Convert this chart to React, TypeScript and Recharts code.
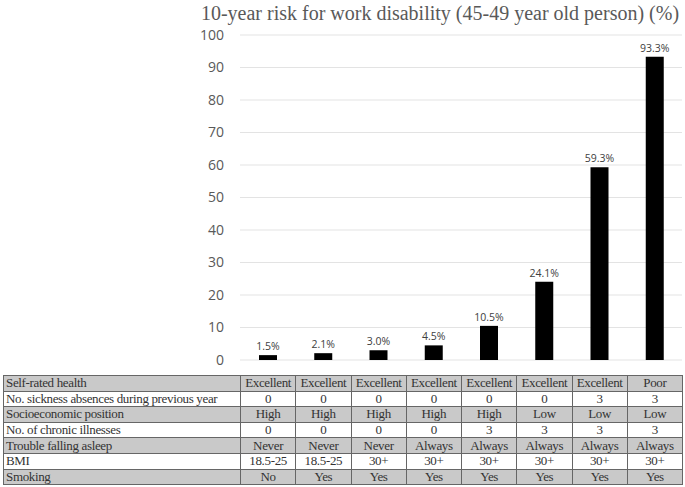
import { Bar, BarChart, CartesianGrid, LabelList, XAxis, YAxis } from "recharts";

const scenarios = ["S1", "S2", "S3", "S4", "S5", "S6", "S7", "S8"];
const risk = [1.5, 2.1, 3.0, 4.5, 10.5, 24.1, 59.3, 93.3];
const yTicks = [0, 10, 20, 30, 40, 50, 60, 70, 80, 90, 100];

const rowLabels = [
  "Self-rated health",
  "No. sickness absences during previous year",
  "Socioeconomic position",
  "No. of chronic illnesses",
  "Trouble falling asleep",
  "BMI",
  "Smoking",
];
const selfRatedHealth = ["Excellent", "Excellent", "Excellent", "Excellent", "Excellent", "Excellent", "Excellent", "Poor"];
const sicknessAbsences = ["0", "0", "0", "0", "0", "0", "3", "3"];
const socioeconomic = ["High", "High", "High", "High", "High", "Low", "Low", "Low"];
const chronicIllnesses = ["0", "0", "0", "0", "3", "3", "3", "3"];
const troubleAsleep = ["Never", "Never", "Never", "Always", "Always", "Always", "Always", "Always"];
const bmi = ["18.5-25", "18.5-25", "30+", "30+", "30+", "30+", "30+", "30+"];
const smoking = ["No", "Yes", "Yes", "Yes", "Yes", "Yes", "Yes", "Yes"];

const rowValues = [selfRatedHealth, sicknessAbsences, socioeconomic, chronicIllnesses, troubleAsleep, bmi, smoking];

const data = scenarios.map((s, i) => ({ name: s, risk: risk[i] }));

const PLOT_LEFT = 240;
const PLOT_RIGHT = 682;
const colW = (PLOT_RIGHT - PLOT_LEFT) / scenarios.length;
const rowH = 15.6;

export default function App() {
  return (
    <div style={{ position: "absolute", left: 0, top: 0, width: 685, height: 487, background: "#fff" }}>
      <div
        style={{
          position: "absolute",
          left: 200,
          width: 480,
          top: 0,
          textAlign: "center",
          fontFamily: "'Liberation Serif', serif",
          fontSize: 20,
          lineHeight: "26px",
          color: "#595959",
        }}
      >
        10-year risk for work disability (45-49 year old person) (%)
      </div>
      <div style={{ position: "absolute", left: 0, top: 0 }}>
        <BarChart width={685} height={370} data={data} margin={{ top: 35, right: 685 - PLOT_RIGHT, bottom: 10, left: 0 }}>
          <CartesianGrid vertical={false} stroke="#e3e3e3" />
          <XAxis dataKey="name" height={0} tick={false} tickLine={false} axisLine={{ stroke: "#bfbfbf" }} />
          <YAxis
            width={PLOT_LEFT}
            domain={[0, 100]}
            ticks={yTicks}
            tickLine={false}
            axisLine={false}
            tickMargin={10}
            tick={{ fill: "#595959", fontSize: 14, fontFamily: "'Open Sans', sans-serif" }}
          />
          <Bar dataKey="risk" fill="#000" barSize={18} isAnimationActive={false}>
            <LabelList
              dataKey="risk"
              position="top"
              formatter={(v: number) => v.toFixed(1) + "%"}
              style={{ fill: "#404040", fontSize: 10.5, fontFamily: "'Open Sans', sans-serif" }}
            />
          </Bar>
        </BarChart>
      </div>
      <table
        style={{
          position: "absolute",
          left: 3,
          top: 375,
          borderCollapse: "collapse",
          tableLayout: "fixed",
          fontFamily: "'Liberation Serif', serif",
          fontSize: 13,
          letterSpacing: -0.35,
          color: "#333",
          border: "1.5px solid #555",
        }}
      >
        <colgroup>
          <col style={{ width: PLOT_LEFT - 3 }} />
          {scenarios.map((s) => (
            <col key={s} style={{ width: colW }} />
          ))}
        </colgroup>
        <tbody>
          {rowLabels.map((label, r) => (
            <tr key={label} style={{ height: rowH, background: r % 2 === 0 ? "#c9c9c9" : "#fff" }}>
              <td style={{ border: "1px solid #666", padding: "0 2px", lineHeight: "14px", whiteSpace: "nowrap" }}>{label}</td>
              {rowValues[r].map((v, c) => (
                <td key={c} style={{ border: "1px solid #666", padding: 0, textAlign: "center", lineHeight: "14px" }}>
                  {v}
                </td>
              ))}
            </tr>
          ))}
        </tbody>
      </table>
    </div>
  );
}
